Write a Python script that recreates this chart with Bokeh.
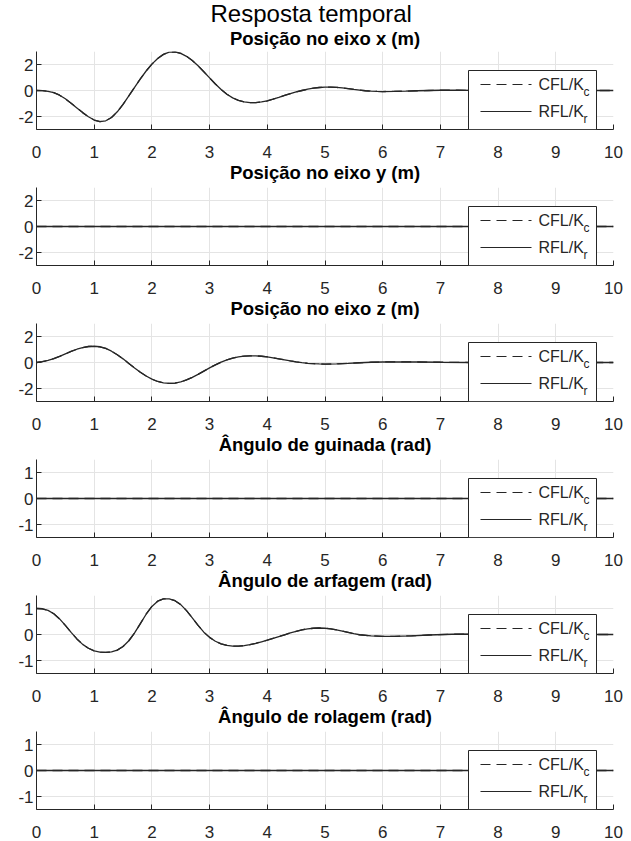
from bokeh.plotting import figure
from bokeh.models import Range1d, BoxAnnotation, Label, FixedTicker, Title
from bokeh.layouts import column
from bokeh.embed import file_html
from bokeh.resources import INLINE

# ---------------- data ----------------
titles = ["Posição no eixo x (m)", "Posição no eixo y (m)", "Posição no eixo z (m)",
          "Ângulo de guinada (rad)", "Ângulo de arfagem (rad)", "Ângulo de rolagem (rad)"]
main_title = "Resposta temporal"
legend_labels = ["CFL/K", "RFL/K"]
legend_subs = ["c", "r"]
x_ticks = [0, 1, 2, 3, 4, 5, 6, 7, 8, 9, 10]
y_ticks_pos = [-2, 0, 2]
y_ticks_ang = [-1, 0, 1]

t_xpos = [0.0, 0.1, 0.2, 0.3, 0.4, 0.5, 0.6, 0.7, 0.8, 0.9,
          1.0, 1.1, 1.2, 1.3, 1.4, 1.5, 1.6, 1.7, 1.8, 1.9,
          2.0, 2.1, 2.2, 2.3, 2.4, 2.5, 2.6, 2.7, 2.8, 2.9,
          3.0, 3.1, 3.2, 3.3, 3.4, 3.5, 3.6, 3.7, 3.8, 3.9,
          4.0, 4.1, 4.2, 4.3, 4.4, 4.5, 4.6, 4.7, 4.8, 4.9,
          5.0, 5.1, 5.2, 5.3, 5.4, 5.5, 5.6, 5.7, 5.8, 5.9,
          6.0, 6.2, 6.4, 6.6, 6.8, 7.0, 7.3, 7.6, 8.0, 9.0, 10.0]
xpos_cfl = [0.00, -0.01, -0.06, -0.17, -0.36, -0.64, -0.98, -1.34, -1.70, -2.02,
            -2.27, -2.39, -2.33, -2.08, -1.64, -1.07, -0.42, 0.24, 0.90, 1.50,
            2.03, 2.46, 2.78, 2.95, 2.97, 2.86, 2.63, 2.30, 1.90, 1.44,
            0.97, 0.50, 0.07, -0.29, -0.57, -0.76, -0.88, -0.93, -0.93, -0.88,
            -0.79, -0.67, -0.53, -0.38, -0.24, -0.11, 0.00, 0.10, 0.18, 0.23,
            0.26, 0.26, 0.24, 0.20, 0.14, 0.08, 0.03, -0.02, -0.05, -0.07,
            -0.08, -0.07, -0.05, -0.02, 0.00, 0.02, 0.02, 0.01, 0.00, 0.00, 0.00]
xpos_rfl = list(xpos_cfl)

t_ypos = [0.0, 10.0]
ypos_cfl = [0.0, 0.0]
ypos_rfl = [0.0, 0.0]

t_zpos = [0.0, 0.1, 0.2, 0.3, 0.4, 0.5, 0.6, 0.7, 0.8, 0.9,
          1.0, 1.1, 1.2, 1.3, 1.4, 1.5, 1.6, 1.7, 1.8, 1.9,
          2.0, 2.1, 2.2, 2.3, 2.4, 2.5, 2.6, 2.7, 2.8, 2.9,
          3.0, 3.1, 3.2, 3.3, 3.4, 3.5, 3.6, 3.7, 3.8, 3.9,
          4.0, 4.1, 4.2, 4.3, 4.4, 4.5, 4.6, 4.7, 4.8, 4.9,
          5.0, 5.2, 5.4, 5.6, 5.8, 6.0, 6.3, 6.6, 7.0, 7.5, 8.0, 9.0, 10.0]
zpos_cfl = [0.00, 0.06, 0.16, 0.30, 0.47, 0.66, 0.85, 1.02, 1.15, 1.23,
            1.25, 1.21, 1.08, 0.87, 0.60, 0.28, -0.07, -0.42, -0.75, -1.04,
            -1.28, -1.46, -1.57, -1.61, -1.58, -1.49, -1.34, -1.14, -0.91, -0.66,
            -0.41, -0.18, 0.03, 0.20, 0.33, 0.43, 0.49, 0.51, 0.51, 0.48,
            0.43, 0.36, 0.28, 0.20, 0.12, 0.05, -0.01, -0.06, -0.09, -0.11,
            -0.12, -0.11, -0.07, -0.02, 0.02, 0.04, 0.05, 0.04, 0.02, 0.00, 0.00, 0.00, 0.00]
zpos_rfl = list(zpos_cfl)

t_yaw = [0.0, 10.0]
yaw_cfl = [0.0, 0.0]
yaw_rfl = [0.0, 0.0]

t_pitch = [0.0, 0.1, 0.2, 0.3, 0.4, 0.5, 0.6, 0.7, 0.8, 0.9,
           1.0, 1.1, 1.2, 1.3, 1.4, 1.5, 1.6, 1.7, 1.8, 1.9,
           2.0, 2.1, 2.2, 2.3, 2.4, 2.5, 2.6, 2.7, 2.8, 2.9,
           3.0, 3.1, 3.2, 3.3, 3.4, 3.5, 3.6, 3.7, 3.8, 3.9,
           4.0, 4.1, 4.2, 4.3, 4.4, 4.5, 4.6, 4.7, 4.8, 4.9,
           5.0, 5.1, 5.2, 5.3, 5.4, 5.5, 5.6,
           5.8, 6.0, 6.2, 6.5, 6.8, 7.2, 7.6, 8.0, 9.0, 10.0]
pitch_cfl = [1.00, 0.99, 0.93, 0.80, 0.60, 0.35, 0.08, -0.17, -0.38, -0.53,
             -0.63, -0.68, -0.69, -0.67, -0.60, -0.46, -0.24, 0.06, 0.42, 0.78,
             1.08, 1.28, 1.37, 1.37, 1.30, 1.15, 0.92, 0.64, 0.35, 0.09,
             -0.11, -0.26, -0.36, -0.42, -0.45, -0.45, -0.43, -0.39, -0.34, -0.28,
             -0.22, -0.15, -0.08, -0.01, 0.06, 0.12, 0.18, 0.22, 0.24, 0.25,
             0.24, 0.22, 0.18, 0.13, 0.08, 0.03, -0.01,
             -0.05, -0.07, -0.07, -0.05, -0.02, 0.01, 0.02, 0.01, 0.00, 0.00]
pitch_rfl = list(pitch_cfl)

t_roll = [0.0, 10.0]
roll_cfl = [0.0, 0.0]
roll_rfl = [0.0, 0.0]

# ---------------- styling / layout ----------------
FONT = "Liberation Sans"
AX = "#262626"
GRID = "#e4e4e4"
FW, FH = 577, 78
LEFT_B, RIGHT_B = 36, 18
TOP_FIRST, TOP_OTHER = 51, 2
BOTTOM_WITH_TITLE, BOTTOM_LAST = 56, 36
X_STANDOFF = 16
MAIN_TITLE_OFFSET = 174  # px from the frame's left edge

# legend geometry (pixels, relative to the plot frame)
LEG_L, LEG_R, LEG_T = 432, 560, 19
ROWS = [14, 41]
SAMPLE_X0, SAMPLE_X1 = 12, 63
TXT_X, SUB_DX = 70, 45


def px2x(px):
    return px * 10.0 / FW


def px2y(py, ylim):
    return ylim[1] - py * (ylim[1] - ylim[0]) / FH


def sub_title(text, standoff):
    return Title(text=text, align="center", text_font=FONT, text_font_size="18.5px",
                 text_font_style="bold", text_color="black", standoff=standoff)


def make_panel(t_c, v_c, t_r, v_r, ylim, yticks, top_b, bottom_b):
    p = figure(frame_width=FW, frame_height=FH, x_range=Range1d(0, 10), y_range=Range1d(*ylim),
               output_backend="svg", toolbar_location=None, tools="", title=None,
               min_border_left=LEFT_B, min_border_right=RIGHT_B,
               min_border_top=top_b, min_border_bottom=bottom_b)
    p.outline_line_color = None
    p.background_fill_color = "white"
    p.border_fill_color = "white"

    p.xaxis.ticker = FixedTicker(ticks=x_ticks)
    p.yaxis.ticker = FixedTicker(ticks=yticks)
    p.yaxis.major_label_overrides = {v: str(v) for v in yticks}
    for ax in (p.xaxis[0], p.yaxis[0]):
        ax.axis_line_color = AX
        ax.axis_line_width = 1
        ax.major_tick_line_color = AX
        ax.major_tick_in = 5
        ax.major_tick_out = 0
        ax.minor_tick_line_color = None
        ax.major_label_text_font = FONT
        ax.major_label_text_font_size = "17px"
        ax.major_label_text_color = AX
    p.xaxis.major_label_standoff = X_STANDOFF
    p.yaxis.major_label_standoff = 3
    p.xgrid.ticker = FixedTicker(ticks=x_ticks)
    p.ygrid.ticker = FixedTicker(ticks=yticks)
    for g in (p.xgrid[0], p.ygrid[0]):
        g.grid_line_color = GRID
        g.grid_line_width = 1

    p.line(t_c, v_c, line_color=AX, line_width=1.3, line_dash="10 6")
    p.line(t_r, v_r, line_color=AX, line_width=1.3)

    # legend (drawn by hand so the subscripts can be shown)
    top = px2y(LEG_T, ylim)
    p.add_layout(BoxAnnotation(left=px2x(LEG_L), right=px2x(LEG_R), top=top, bottom=ylim[0],
                               fill_color="white", fill_alpha=1.0, line_color=AX,
                               line_width=1, line_alpha=1.0, level="annotation"))
    dashes = ["10 6", "solid"]
    for i, row in enumerate(ROWS):
        yy = px2y(LEG_T + row, ylim)
        p.segment(x0=[px2x(LEG_L + SAMPLE_X0)], y0=[yy], x1=[px2x(LEG_L + SAMPLE_X1)], y1=[yy],
                  line_color=AX, line_width=1.2, line_dash=dashes[i], level="overlay")
        p.add_layout(Label(x=px2x(LEG_L + TXT_X), y=yy, text=legend_labels[i], text_font=FONT,
                           text_font_size="16px", text_color=AX, text_baseline="middle",
                           text_align="left", level="overlay"))
        p.add_layout(Label(x=px2x(LEG_L + TXT_X + SUB_DX), y=yy, y_offset=-7, text=legend_subs[i],
                           text_font=FONT, text_font_size="12px", text_color=AX,
                           text_baseline="middle", text_align="left", level="overlay"))
    return p


series = [
    (t_xpos, xpos_cfl, t_xpos, xpos_rfl, (-3, 3), y_ticks_pos),
    (t_ypos, ypos_cfl, t_ypos, ypos_rfl, (-3, 3), y_ticks_pos),
    (t_zpos, zpos_cfl, t_zpos, zpos_rfl, (-3, 3), y_ticks_pos),
    (t_yaw, yaw_cfl, t_yaw, yaw_rfl, (-1.5, 1.5), y_ticks_ang),
    (t_pitch, pitch_cfl, t_pitch, pitch_rfl, (-1.5, 1.5), y_ticks_ang),
    (t_roll, roll_cfl, t_roll, roll_rfl, (-1.5, 1.5), y_ticks_ang),
]

n = len(series)
figs = []
for i, (tc, vc, tr, vr, yl, yt) in enumerate(series):
    top_b = TOP_FIRST if i == 0 else TOP_OTHER
    bottom_b = BOTTOM_WITH_TITLE if i < n - 1 else BOTTOM_LAST
    figs.append(make_panel(tc, vc, tr, vr, yl, yt, top_b, bottom_b))

# first panel: main title and its own title above the frame
figs[0].add_layout(sub_title(titles[0], 5), "above")
figs[0].add_layout(Title(text=main_title, align="left", offset=MAIN_TITLE_OFFSET, text_font=FONT,
                         text_font_size="24px", text_font_style="normal", text_color="black",
                         standoff=-6), "above")
# the title of each following panel sits in the gap under the previous panel's axis
for i in range(1, n):
    figs[i - 1].add_layout(sub_title(titles[i], -1), "below")

layout = column(*figs, spacing=0)
open("out.html", "w").write(file_html(layout, INLINE, title="Resposta temporal"))
